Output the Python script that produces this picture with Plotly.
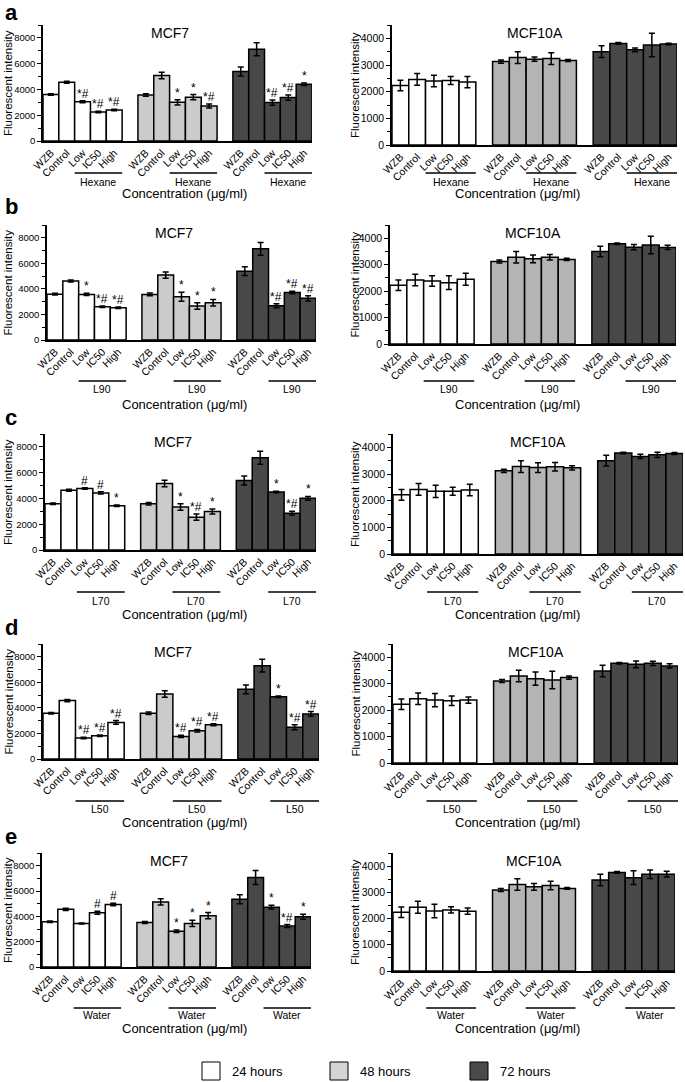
import plotly.graph_objects as go
from plotly.subplots import make_subplots

W, H = 685, 1082
FONT = 'Liberation Sans, Arial, sans-serif'

conditions = ['WZB', 'Control', 'Low', 'IC50', 'High']
times = ['24 hours', '48 hours', '72 hours']
extracts = ['Hexane', 'L90', 'L70', 'L50', 'Water']
letters = ['a', 'b', 'c', 'd', 'e']

# MCF7 mean fluorescence, rows = 24h / 48h / 72h, cols = WZB, Control, Low, IC50, High
mcf7_mean = {
    'Hexane': [[3600, 4560, 3050, 2250, 2400], [3570, 5080, 3000, 3400, 2720], [5390, 7120, 2980, 3370, 4400]],
    'L90':    [[3590, 4610, 3570, 2600, 2530], [3570, 5080, 3390, 2660, 2920], [5390, 7140, 2680, 3720, 3260]],
    'L70':    [[3590, 4640, 4770, 4430, 3440], [3590, 5160, 3330, 2550, 2990], [5390, 7160, 4500, 2860, 4010]],
    'L50':    [[3580, 4570, 1640, 1820, 2860], [3580, 5090, 1770, 2210, 2680], [5450, 7300, 4880, 2490, 3530]],
    'Water':  [[3580, 4550, 3440, 4290, 4930], [3520, 5140, 2830, 3440, 4050], [5350, 7070, 4720, 3230, 3970]],
}
mcf7_err = {
    'Hexane': [[60, 80, 80, 60, 60], [100, 250, 200, 200, 150], [350, 500, 200, 200, 100]],
    'L90':    [[60, 80, 80, 60, 60], [100, 250, 350, 250, 250], [350, 500, 150, 100, 200]],
    'L70':    [[60, 80, 60, 80, 60], [100, 250, 250, 250, 200], [350, 500, 60, 150, 150]],
    'L50':    [[60, 80, 60, 60, 150], [100, 250, 80, 100, 80], [350, 500, 60, 200, 180]],
    'Water':  [[60, 80, 40, 120, 100], [80, 250, 100, 250, 250], [350, 550, 150, 120, 200]],
}
mcf7_sig = {
    'Hexane': [['', '', '*#', '*#', '*#'], ['', '', '*', '*', '*#'], ['', '', '*#', '*#', '*']],
    'L90':    [['', '', '*', '*#', '*#'], ['', '', '*', '*', '*'], ['', '', '*#', '*#', '*#']],
    'L70':    [['', '', '#', '#', '*'], ['', '', '*', '*#', '*'], ['', '', '*', '*#', '*']],
    'L50':    [['', '', '*#', '*#', '*#'], ['', '', '*#', '*#', '*#'], ['', '', '*', '*#', '*#']],
    'Water':  [['', '', '', '#', '#'], ['', '', '*', '*', '*'], ['', '', '*', '*#', '*']],
}

# MCF10A mean fluorescence
mcf10a_mean = {
    'Hexane': [[2230, 2460, 2400, 2420, 2360], [3130, 3280, 3220, 3240, 3170], [3500, 3810, 3570, 3750, 3790]],
    'L90':    [[2220, 2420, 2380, 2320, 2450], [3120, 3280, 3220, 3280, 3200], [3500, 3790, 3660, 3740, 3650]],
    'L70':    [[2220, 2420, 2350, 2350, 2400], [3120, 3280, 3240, 3270, 3230], [3500, 3790, 3660, 3720, 3770]],
    'L50':    [[2220, 2430, 2380, 2350, 2380], [3100, 3290, 3190, 3140, 3230], [3480, 3770, 3730, 3770, 3670]],
    'Water':  [[2240, 2430, 2290, 2330, 2280], [3090, 3300, 3210, 3260, 3150], [3470, 3760, 3560, 3690, 3690]],
}
mcf10a_err = {
    'Hexane': [[200, 220, 220, 150, 210], [60, 220, 80, 220, 40], [220, 30, 70, 440, 30]],
    'L90':    [[200, 220, 200, 260, 230], [60, 220, 150, 100, 40], [200, 30, 100, 330, 80]],
    'L70':    [[200, 220, 230, 150, 220], [60, 220, 180, 160, 80], [200, 30, 80, 100, 40]],
    'L50':    [[200, 220, 250, 180, 120], [60, 220, 250, 330, 60], [220, 30, 130, 80, 80]],
    'Water':  [[200, 230, 260, 120, 120], [60, 220, 130, 160, 30], [220, 30, 260, 160, 110]],
}

fill7 = ['#ffffff', '#cbcbcb', '#484848']
fill10 = ['#ffffff', '#b4b4b4', '#484848']
legend_fill = ['#ffffff', '#d4d4d4', '#4a4a4a']

# pixel geometry of each row of panels
rows_px = [
    dict(top=25, z7=141, z10=145, line=173, lab=182, conc=193, letter=12, x7=(43, 312), x10=(392, 677)),
    dict(top=225, z7=340, z10=344, line=381, lab=389, conc=404, letter=207, x7=(47, 316), x10=(390, 676)),
    dict(top=434, z7=550, z10=554, line=592, lab=601, conc=614, letter=417, x7=(45, 316), x10=(393, 683)),
    dict(top=644, z7=759, z10=763, line=801, lab=809, conc=822, letter=627, x7=(43, 319), x10=(393, 678)),
    dict(top=853, z7=967, z10=971, line=1008, lab=1015, conc=1028, letter=836, x7=(42, 311), x10=(393, 675)),
]


def px(x):
    return x / W


def py(y):
    return 1 - y / H


def label(x, y, text, size, xref='paper', **kw):
    d = dict(x=x, y=y, xref=xref, yref='paper', text=text, showarrow=False,
             xanchor='center', yanchor='middle', font=dict(size=size, family=FONT, color='black'))
    d.update(kw)
    return d


positions = [g * 6 + i for g in range(3) for i in range(5)]
ticktext = conditions * 3

fig = make_subplots(rows=5, cols=2)
annotations = []
shapes = []

for r, ext in enumerate(extracts):
    geo = rows_px[r]
    for c in range(2):
        idx = r * 2 + c + 1
        xa = 'x' if idx == 1 else 'x%d' % idx
        ya = 'y' if idx == 1 else 'y%d' % idx
        if c == 0:
            means, errs, sigs, fills = mcf7_mean[ext], mcf7_err[ext], mcf7_sig[ext], fill7
            zero, (xl, xr) = geo['z7'], geo['x7']
            yr, dt, mdt, title, ytx, concx, tfs = 9000, 2000, 1000, 'MCF7', 8, 184, 9.5
        else:
            means, errs, sigs, fills = mcf10a_mean[ext], mcf10a_err[ext], None, fill10
            zero, (xl, xr) = geo['z10'], geo['x10']
            yr, dt, mdt, title, ytx, concx, tfs = 4500, 1000, 500, 'MCF10A', 355, 517, 10.5

        for t in range(3):
            fig.add_trace(go.Bar(
                x=[t * 6 + i for i in range(5)], y=means[t], width=1,
                marker=dict(color=fills[t], line=dict(color='black', width=1.5)),
                error_y=dict(type='data', array=errs[t], color='black', thickness=1.5, width=3),
                name=times[t], showlegend=False, hoverinfo='skip',
            ), row=r + 1, col=c + 1)
            if sigs:
                for i in range(5):
                    if sigs[t][i]:
                        annotations.append(dict(
                            x=t * 6 + i, y=means[t][i] + errs[t][i], xref=xa, yref=ya,
                            text=sigs[t][i], showarrow=False, xanchor='center', yanchor='bottom',
                            yshift=-2, font=dict(size=12, family=FONT, color='black')))

        fig.update_xaxes(domain=[px(xl), px(xr)], range=[-0.5, 16.5], tickvals=positions,
                         ticktext=ticktext, tickangle=-45, showline=True, linecolor='black',
                         linewidth=1.5, ticks='', showgrid=False, zeroline=False, automargin=False,
                         tickfont=dict(size=10.5, family=FONT, color='black'),
                         row=r + 1, col=c + 1)
        fig.update_yaxes(domain=[py(zero), py(geo['top'])], range=[0, yr], tick0=0, dtick=dt,
                         showline=True, linecolor='black', linewidth=1.5, ticks='outside',
                         ticklen=4, tickwidth=1.2, tickcolor='black', showgrid=False,
                         zeroline=False, automargin=False,
                         minor=dict(dtick=mdt, ticks='outside', ticklen=3, tickcolor='black', tickwidth=1),
                         tickfont=dict(size=tfs, family=FONT, color='black'),
                         row=r + 1, col=c + 1)

        # panel title and axis titles
        annotations.append(label(px((xl + xr) / 2 + (-8 if c == 0 else 0)), py(geo['top'] + 8), title, 14))
        annotations.append(label(px(ytx), py((geo['top'] + zero) / 2), 'Fluorescent intensity', 11.5,
                                 textangle=-90))
        annotations.append(label(px(concx), py(geo['conc']), 'Concentration (\u03bcg/ml)', 13))
        # extract group underline + label
        for g in range(3):
            shapes.append(dict(type='line', xref=xa, yref='paper', x0=g * 6 + 1.5, x1=g * 6 + 4.5,
                               y0=py(geo['line']), y1=py(geo['line']),
                               line=dict(color='black', width=1.5)))
            annotations.append(label(g * 6 + 3, py(geo['lab']), ext, 10.5, xref=xa))

    annotations.append(label(px(3), py(geo['letter']), '<b>%s</b>' % letters[r], 22, xanchor='left'))

# legend at the bottom
legend_x = [202, 330, 470]
for t in range(3):
    x0 = legend_x[t]
    shapes.append(dict(type='rect', xref='paper', yref='paper', x0=px(x0), x1=px(x0 + 18),
                       y0=py(1080), y1=py(1062), fillcolor=legend_fill[t],
                       line=dict(color='black', width=1)))
    annotations.append(label(px(x0 + 28), py(1071), times[t], 13, xanchor='left'))

fig.update_layout(width=W, height=H, autosize=False, margin=dict(l=0, r=0, t=0, b=0),
                  paper_bgcolor='white', plot_bgcolor='white', barmode='overlay',
                  annotations=annotations, shapes=shapes, showlegend=False,
                  font=dict(family=FONT, color='black'))

# drop the browser's default 8px body margin so the figure sits at the page origin
fig.write_html("out.html", config={'displayModeBar': False},
               post_script="document.body.style.margin='0px';")
